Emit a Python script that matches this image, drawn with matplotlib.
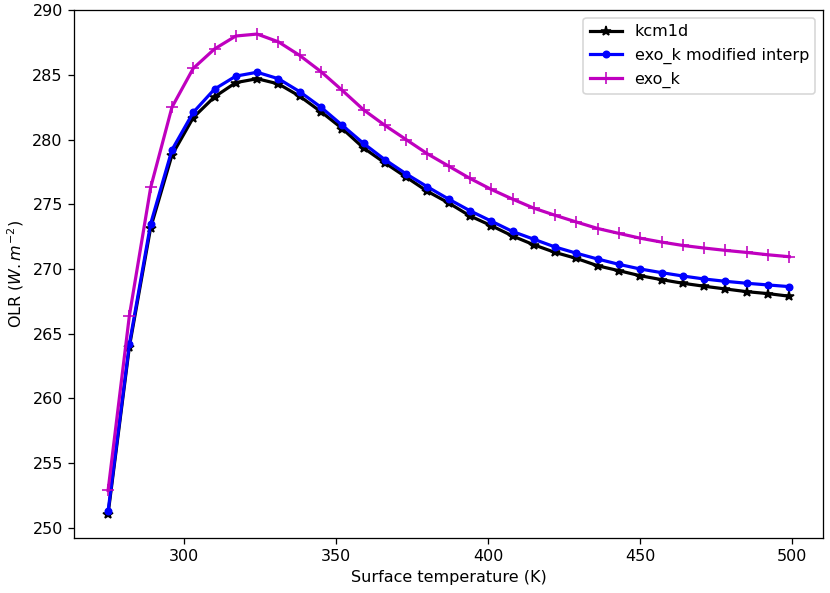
"""OLR versus surface temperature for kcm1d and exo_k."""

import matplotlib
matplotlib.use('Agg')
import matplotlib.pyplot as plt
import numpy as np

t_surf = np.arange(275, 500, 7)

olr_kcm1d = [251.1, 264.0, 273.2, 278.8, 281.7, 283.3, 284.4, 284.7, 284.3, 283.35,
             282.15, 280.85, 279.35, 278.2, 277.1, 276.0, 275.1, 274.1, 273.35, 272.55,
             271.87, 271.28, 270.82, 270.25, 269.87, 269.48, 269.18, 268.9, 268.67,
             268.46, 268.25, 268.1, 267.9]

olr_exok_mod = [251.3, 264.2, 273.5, 279.2, 282.1, 283.9, 284.9, 285.2, 284.7, 283.7,
                282.5, 281.1, 279.7, 278.45, 277.35, 276.35, 275.4, 274.5, 273.7, 272.9,
                272.3, 271.7, 271.22, 270.77, 270.36, 270.0, 269.72, 269.46, 269.23,
                269.05, 268.9, 268.77, 268.64]

olr_exok = [252.9, 266.4, 276.3, 282.5, 285.5, 287.0, 288.0, 288.15, 287.55, 286.5,
            285.25, 283.8, 282.3, 281.1, 280.0, 278.9, 277.95, 277.0, 276.15, 275.4,
            274.7, 274.15, 273.63, 273.13, 272.75, 272.38, 272.08, 271.82, 271.62,
            271.44, 271.28, 271.1, 270.95]

DPI = 115
fig = plt.figure(figsize=(830 / DPI, 593 / DPI), dpi=DPI)
ax = fig.add_axes([0.0892, 0.0933, 0.9028, 0.8897])

ax.plot(t_surf, olr_kcm1d, 'k-*', lw=2, label='kcm1d')
ax.plot(t_surf, olr_exok_mod, 'b-o', lw=2, markersize=4, label='exo_k modified interp')
ax.plot(t_surf, olr_exok, 'm-+', lw=2, markersize=8, label='exo_k')

ax.set_xlabel('Surface temperature (K)')
ax.set_ylabel('OLR ($W.m^{-2}$)')
ax.legend(loc='upper right')

fig.savefig('out.png', dpi=DPI)
